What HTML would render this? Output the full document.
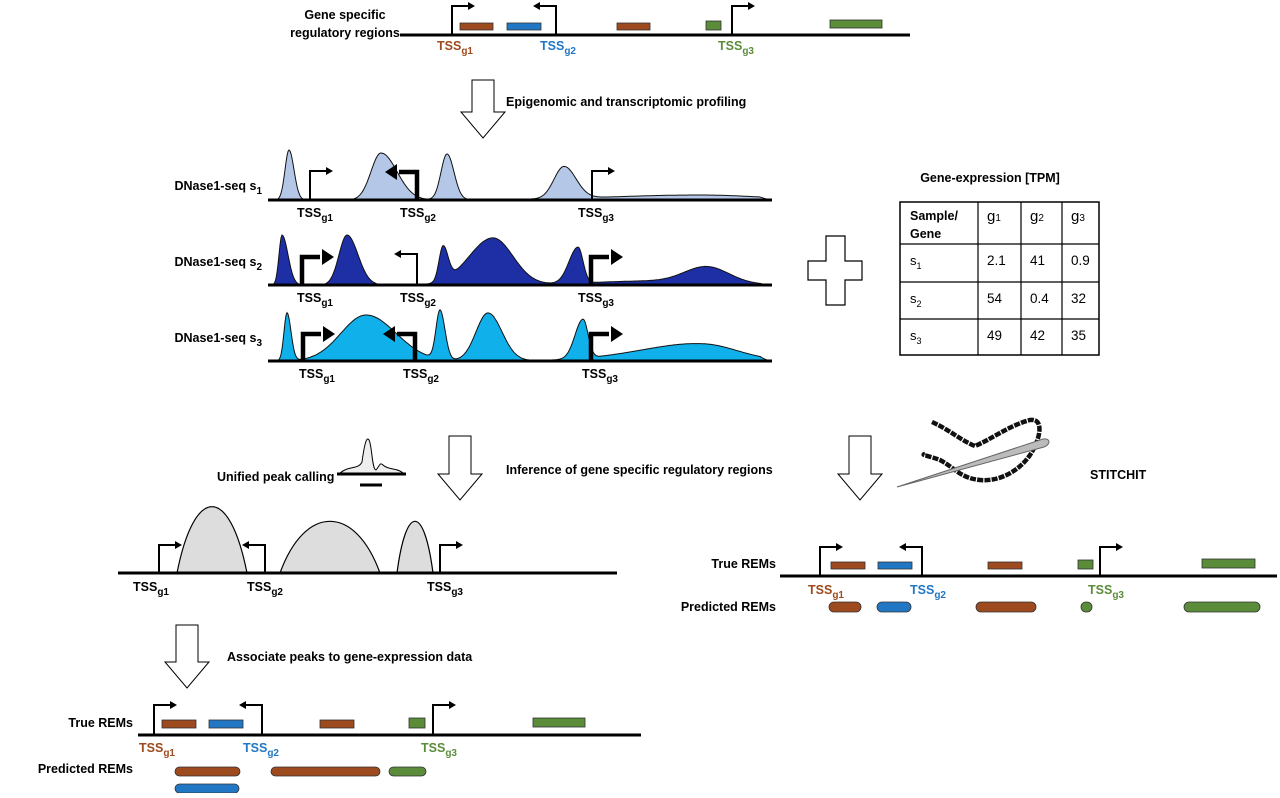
<!DOCTYPE html>
<html><head><meta charset="utf-8"><style>
body{margin:0;background:#fff}
svg text{font-family:"Liberation Sans",Arial,sans-serif;font-weight:bold;font-size:12.5px}
svg text.n{font-weight:normal}
</style></head><body>
<svg id="fig" width="1280" height="793" viewBox="0 0 1280 793" xmlns="http://www.w3.org/2000/svg">
<g id="g"></g>
</svg>
<script>
// data arrays: DNase peaks [center, height, leftWidth, rightWidth]
const s1Peaks=[[289,50,4,5],[381,47,10,16],[447,46,6,7],[564,32,10,12],[700,5,90,60]];
const s2Peaks=[[282,50,3,6],[347,50,8,11],[443,34,4,5],[493,47,24,20],[578,36,9,5],[707,16,22,22],[650,4,60,60]];
const s3Peaks=[[287,48,3,4],[366,46,25,30],[440,49,4,5],[488,48,12,14],[583,39,8,5],[703,15,50,35],[640,4,50,60]];
const samples=["s1","s2","s3"];
const genes=["g1","g2","g3"];
const tpm=[[ "2.1","41","0.9"],["54","0.4","32"],["49","42","35"]];

const NS="http://www.w3.org/2000/svg";
const G=document.getElementById('g');
function el(tag,attrs,parent){const e=document.createElementNS(NS,tag);for(const k in attrs)e.setAttribute(k,attrs[k]);(parent||G).appendChild(e);return e;}
function txt(x,y,s,opts){opts=opts||{};const t=el('text',{x:x,y:y,fill:opts.fill||'#000','text-anchor':opts.anchor||'start'});if(opts.size)t.setAttribute('font-size',opts.size);t.textContent=s;return t;}
function tss(x,y,sub,fill){const t=el('text',{x:x,y:y,fill:fill||'#000'});const a=el('tspan',{},t);a.textContent='TSS';const b=el('tspan',{dy:4,'font-size':'10px'},t);b.textContent=sub;


return t;}
function line(x1,x2,y,w){const l=el('line',{x1:x1,x2:x2,y1:y,y2:y,stroke:'#000','stroke-width':w||3});


return l;}
function tssArrow(x,base,top,dir,thick){const w=thick?4.5:2;const len=thick?20:16;const ex=x+dir*len;
const p=el('path',{d:`M${x} ${base} V${top} H${ex-dir*(thick?2:0)}`,fill:'none',stroke:'#000','stroke-width':w});


const hs=thick?8:4,hl=thick?12:7;
const h=el('path',{d:`M${ex} ${top-hs} L${ex+dir*hl} ${top} L${ex} ${top+hs}Z`,fill:'#000'});

}
function rect(x1,x2,y1,y2,fill){const r=el('rect',{x:x1,y:y1,width:x2-x1,height:y2-y1,fill:fill,stroke:'#333','stroke-width':0.8});

}
function pill(x1,x2,y1,y2,fill){const h=y2-y1;const r=el('rect',{x:x1,y:y1,width:x2-x1,height:h,rx:h/2,fill:fill,stroke:'#333','stroke-width':0.8});

}
function downArrow(cx,y0,y1){const p=el('path',{d:`M${cx-11} ${y0} H${cx+11} V${y1-26} H${cx+22} L${cx} ${y1} L${cx-22} ${y1-26} H${cx-11}Z`,fill:'#fff',stroke:'#000','stroke-width':1});

}
const BR='#9c4a1e',BL='#2277c4',GR='#5b8c3a';

// top gene diagram
txt(345,19,'Gene specific',{anchor:'middle'});
txt(345,37,'regulatory regions',{anchor:'middle'});
line(400,910,35);
tssArrow(452,35,6,1,false);tssArrow(556,35,6,-1,false);tssArrow(732,35,6,1,false);
rect(460,493,23,30,BR);rect(507,541,23,30,BL);rect(617,650,23,30,BR);rect(706,721,21,30,GR);rect(830,882,20,28,GR);
tss(437,50,'g1',BR);tss(540,50,'g2',BL);tss(718,50,'g3',GR);
downArrow(483,80,138);
txt(506,106,'Epigenomic and transcriptomic profiling');

// DNase tracks
function track(peaks,base,fill,name){let d=`M272 ${base}`;
for(let x=272;x<=770;x++){let s=0;for(const p of peaks){const w=x<p[0]?p[2]:p[3];s+=p[1]*Math.exp(-0.5*((x-p[0])/w)**2);}if(x>760)s*=(770-x)/10;d+=` L${x} ${(base-s).toFixed(1)}`;}
d+=` L770 ${base}Z`;const pa=el('path',{d:d,fill:fill,stroke:'#111','stroke-width':1});

}
function tlabel(y,s){const t=el('text',{x:262,y:y,'text-anchor':'end'});const a=el('tspan',{},t);a.textContent='DNase1-seq s';const b=el('tspan',{dy:4,'font-size':'10px'},t);b.textContent=s;

}
track(s1Peaks,200,'#b4c7e7','dnase-track-s1');line(268,772,200);
tssArrow(310,200,171,1,false);tssArrow(417,200,172,-1,true);tssArrow(592,200,171,1,false);
tss(297,217,'g1');tss(400,217,'g2');tss(578,217,'g3');tlabel(190,'1');
track(s2Peaks,285,'#1e2fa6','dnase-track-s2');line(268,772,285);
tssArrow(302,285,257,1,true);tssArrow(417,285,254,-1,false);tssArrow(591,285,257,1,true);
tss(297,302,'g1');tss(400,302,'g2');tss(578,302,'g3');tlabel(266,'2');
track(s3Peaks,361,'#10b0ea','dnase-track-s3');line(268,772,361);
tssArrow(303,361,334,1,true);tssArrow(415,361,334,-1,true);tssArrow(591,361,334,1,true);
tss(299,378,'g1');tss(403,378,'g2');tss(582,378,'g3');tlabel(342,'3');

// plus
const plus=el('path',{d:'M826 236 H845 V261 H862 V280 H845 V305 H826 V280 H808 V261 H826Z',fill:'#fff',stroke:'#000','stroke-width':1.2});



// table
txt(990,182,'Gene-expression [TPM]',{anchor:'middle'});
const cx=[900,978,1021,1062,1099],ry=[202,244,282,319,355];
const tb=el('rect',{x:900,y:202,width:199,height:153,fill:'#fff',stroke:'#000','stroke-width':1.5});


cx.slice(1,4).forEach(x=>el('line',{x1:x,x2:x,y1:202,y2:355,stroke:'#000','stroke-width':1.2}));
ry.slice(1,4).forEach(y=>el('line',{x1:900,x2:1099,y1:y,y2:y,stroke:'#000','stroke-width':1.2}));
txt(910,220,'Sample/');txt(910,238,'Gene');
genes.forEach((g,i)=>{const t=el('text',{x:cx[i+1]+9,y:221,class:'n',style:'font-size:15px'});const a=el('tspan',{},t);a.textContent='g';const b=el('tspan',{'font-size':'10px'},t);b.textContent=g[1];

});
samples.forEach((s,r)=>{const y=ry[r+1]+21;const t=el('text',{x:910,y:y,class:'n',style:'font-size:13px'});const a=el('tspan',{},t);a.textContent='s';const b=el('tspan',{dy:4,'font-size':'9px'},t);b.textContent=s[1];


tpm[r].forEach((v,c)=>{const u=el('text',{x:cx[c+1]+9,y:y,class:'n',style:'font-size:13.5px'});u.textContent=v;

});});

// middle
downArrow(460,436,500);downArrow(860,436,500);
txt(217,481,'Unified peak calling');
txt(506,474,'Inference of gene specific regulatory regions');
txt(1090,479,'STITCHIT');
const ic=el('path',{d:'M340 473 C350 465 358 470 362 462 C365 440 367 437 369 440 C372 445 372 470 376 470 C380 465 380 462 383 465 C388 470 398 468 403 473Z',fill:'#eee',stroke:'#000','stroke-width':1});


el('line',{x1:337,x2:406,y1:474,y2:474,stroke:'#000','stroke-width':3});
el('line',{x1:360,x2:382,y1:485,y2:485,stroke:'#000','stroke-width':3});
// needle & thread
const th=el('path',{d:'M932 422 C950 430 960 440 975 446 C990 440 1010 425 1030 420 C1045 418 1040 440 1030 455 C1020 470 1000 482 980 480 C960 478 955 468 940 460 C930 456 920 455 925 454',fill:'none',stroke:'#111','stroke-width':4.5,'stroke-dasharray':'6 1.2'});


const nd=el('path',{d:'M897 487 L1040 440 C1050 436 1052 444 1044 447 Z',fill:'#bbb',stroke:'#666','stroke-width':1});



// unified peaks
function hump(x1,x2,top,base){const m=(x1+x2)/2;const p=el('path',{d:`M${x1} ${base} C${x1+(m-x1)*0.5} ${top-(base-top)*0.3} ${x2-(x2-m)*0.5} ${top-(base-top)*0.3} ${x2} ${base}Z`,fill:'#ddd',stroke:'#000','stroke-width':1.2});

}
hump(177,247,505,573);hump(280,380,520,573);hump(397,433,520,573);
line(118,617,573);
tssArrow(159,573,545,1,false);tssArrow(265,573,545,-1,false);tssArrow(440,573,545,1,false);
tss(133,591,'g1');tss(247,591,'g2');tss(427,591,'g3');

// right REM diagram
txt(776,568,'True REMs',{anchor:'end'});txt(776,611,'Predicted REMs',{anchor:'end'});
line(780,1277,576);
tssArrow(820,576,547,1,false);tssArrow(922,576,547,-1,false);tssArrow(1100,576,547,1,false);
rect(831,865,562,569,BR);rect(878,912,562,569,BL);rect(988,1022,562,569,BR);rect(1078,1093,560,569,GR);rect(1202,1255,559,568,GR);
tss(808,594,'g1',BR);tss(910,594,'g2',BL);tss(1088,594,'g3',GR);
pill(829,861,602,612,BR);pill(877,911,602,612,BL);pill(976,1036,602,612,BR);pill(1081,1092,602,612,GR);pill(1184,1260,602,612,GR);

// bottom left
downArrow(187,625,688);
txt(227,661,'Associate peaks to gene-expression data');
txt(133,727,'True REMs',{anchor:'end'});txt(133,773,'Predicted REMs',{anchor:'end'});
line(138,641,735);
tssArrow(154,735,705,1,false);tssArrow(262,735,705,-1,false);tssArrow(433,735,705,1,false);
rect(162,196,720,728,BR);rect(209,243,720,728,BL);rect(320,354,720,728,BR);rect(409,425,718,728,GR);rect(533,585,718,727,GR);
tss(139,752,'g1',BR);tss(243,752,'g2',BL);tss(421,752,'g3',GR);
pill(175,240,767,776,BR);pill(271,380,767,776,BR);pill(389,426,767,776,GR);pill(175,239,784,793,BL);
</script>
</body></html>
